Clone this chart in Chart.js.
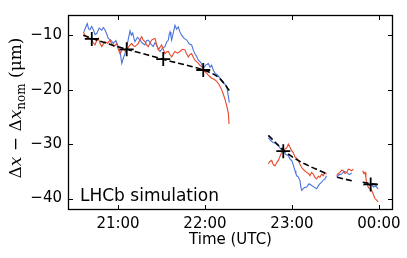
<!DOCTYPE html>
<html>
<head>
<meta charset="utf-8">
<script src="https://cdn.jsdelivr.net/npm/chart.js@4.4.1/dist/chart.umd.min.js"></script>
<style>
  html, body { margin: 0; padding: 0; background: #fff; }
</style>
</head>
<body>
<canvas id="chart" width="407" height="258"></canvas>
<script>
// time axis: minutes after 20:00 UTC
const xTickValues = [60, 120, 180, 240];
const xTickLabels = ['21:00', '22:00', '23:00', '00:00'];
const yTickValues = [-10, -20, -30, -40];

// blue measurement (null = gap)
const blueTime = [36.5, 37.6, 38.8, 39.7, 40.7, 41.8, 43.0, 44.2, 45.3, 47.0, 48.8, 49.9, 51.0, 52.2, 53.3, 55.0,
  56.8, 58.5, 60.2, 61.4, 62.6, 63.7, 64.8, 66.5, 68.3, 69.2, 70.1, 70.9, 71.7, 73.4, 75.2, 76.9, 78.6, 79.7,
  80.9, 82.6, 84.3, 85.5, 86.7, 87.8, 89.0, 90.7, 92.4, 93.5, 94.7, 95.3, 95.9, 96.5, 97.0, 98.2, 99.3, 100.4,
  101.6, 102.7, 103.9, 105.6, 107.4, 109.1, 110.8, 112.0, 113.1, 114.3, 115.4, 117.1, 118.8, 120.5, 122.3, 123.5,
  124.6, 125.7, 126.9, 128.6, 130.3, 131.5, 132.6, 133.8, 135.0, 136.1, 136.8, 150,
  163.7, 165.4, 167.1, 168.8, 170.6, 172.3, 174.0, 175.8, 177.5, 178.7, 179.8, 181.0, 182.1, 182.7, 183.2, 184.4,
  185.5, 186.1, 186.7, 188.4, 190.1, 191.8, 193.6, 195.3, 197.0, 198.8, 200.5, 201.6, 202.8, 203.9, 207,
  210.8, 212.5, 214.3, 216.0, 217.7, 219.5, 221.2, 225,
  229.2, 230.4, 231.5, 232.6, 233.8, 235.0, 236.1, 237.8, 239.5];
const blueVal = [-9.4, -8.6, -7.9, -8.8, -9.0, -8.4, -9.0, -9.9, -9.7, -8.7, -9.1, -8.6, -9.0, -9.8, -10.6, -10.9,
  -11.5, -11.0, -12.1, -13.0, -15.2, -14.2, -13.4, -11.5, -9.2, -10.0, -9.6, -10.5, -11.2, -10.4, -10.9, -11.5, -11.8, -11.0,
  -10.9, -11.6, -12.1, -11.4, -11.8, -12.6, -13.0, -12.4, -12.1, -11.3, -10.9, -9.9, -9.4, -10.2, -10.9, -9.5, -8.2, -8.9,
  -8.5, -9.4, -10.0, -10.6, -10.9, -11.6, -11.8, -12.8, -13.4, -13.9, -14.6, -15.0, -16.1, -15.5, -15.2, -15.9,
  -15.5, -16.4, -17.0, -17.3, -17.9, -18.4, -18.8, -19.0, -19.4, -21.2, -22.4, null,
  -28.8, -29.4, -29.7, -29.9, -30.3, -30.9, -31.2, -31.9, -32.1, -32.8, -33.0, -33.9, -34.9, -35.4, -35.8, -36.0,
  -36.7, -37.8, -38.5, -38.0, -37.9, -37.3, -37.6, -37.9, -38.2, -37.4, -37.0, -36.6, -36.4, -35.8, null,
  -36.1, -35.6, -35.5, -35.0, -35.2, -35.6, -35.3, null,
  -37.6, -37.1, -37.0, -37.5, -37.6, -37.3, -37.9, -37.7, -38.2];

// red measurement (null = gap)
const redTime = [36.1, 37.2, 38.4, 40.1, 41.9, 43.0, 44.1, 45.3, 46.4, 47.6, 48.8, 49.9, 51.0, 52.8, 54.5, 55.6,
  56.8, 57.9, 59.1, 60.2, 61.4, 62.6, 63.7, 64.9, 66.0, 67.7, 69.4, 70.5, 71.7, 72.9, 74.0, 75.2, 76.3, 77.4,
  78.6, 79.7, 80.9, 82.0, 83.2, 84.4, 85.5, 86.7, 87.8, 89.0, 90.1, 91.2, 92.4, 93.5, 94.7, 95.9, 97.0, 98.2,
  99.3, 101.0, 102.7, 104.4, 106.2, 107.3, 108.5, 109.6, 110.8, 112.0, 113.1, 114.3, 115.4, 116.5, 117.7, 119.4,
  121.2, 122.9, 124.6, 126.3, 128.1, 129.8, 131.5, 132.6, 133.8, 135.0, 136.1, 136.6, 150,
  163.7, 164.8, 166.0, 167.2, 168.3, 169.5, 170.6, 171.7, 172.9, 174.0, 175.2, 176.4, 177.5, 178.6, 179.8, 181.0,
  182.1, 183.3, 184.4, 185.5, 186.7, 188.4, 190.1, 191.3, 192.4, 193.5, 194.7, 195.8, 197.0, 198.2, 199.3, 200.5,
  201.6, 202.7, 203.9, 207,
  210.8, 212.0, 213.1, 214.3, 215.4, 216.5, 217.7, 218.9, 220.0, 221.2, 222.3, 225,
  228.8, 229.6, 230.4, 231.0, 231.5, 232.6, 233.8, 235.0, 236.1, 237.2, 238.4, 239.5];
const redVal = [-9.4, -10.0, -10.3, -10.5, -10.9, -11.4, -11.8, -11.0, -10.6, -11.5, -12.1, -11.6, -11.2, -11.5, -10.9, -11.6,
  -12.1, -11.9, -11.5, -12.6, -13.4, -12.8, -12.4, -12.9, -12.7, -12.0, -11.5, -11.9, -12.1, -11.8, -11.5, -10.8, -10.3, -10.9,
  -11.2, -11.8, -12.1, -11.5, -10.9, -10.7, -10.6, -11.8, -12.7, -12.2, -11.8, -12.6, -13.4, -13.1, -13.0, -13.6, -14.0, -13.4,
  -13.0, -13.3, -13.0, -12.6, -12.7, -13.4, -14.0, -13.6, -13.4, -14.1, -14.6, -14.9, -15.2, -15.5, -15.8, -16.5,
  -17.0, -17.5, -17.9, -18.1, -18.5, -19.1, -20.0, -20.8, -21.8, -23.0, -24.3, -26.3, null,
  -33.6, -33.2, -33.0, -33.8, -34.0, -33.4, -33.0, -32.3, -31.5, -31.3, -30.9, -30.7, -30.0, -30.6, -31.2, -31.6,
  -32.4, -32.6, -33.0, -33.7, -34.3, -34.8, -35.2, -35.4, -35.8, -35.2, -35.5, -36.1, -36.4, -35.9, -36.1, -35.5,
  -35.8, -35.2, -35.5, null,
  -35.8, -35.4, -35.2, -34.8, -34.9, -35.4, -35.2, -34.6, -34.7, -34.9, -34.6, null,
  -34.9, -35.4, -35.2, -36.2, -37.0, -37.9, -38.2, -38.5, -39.2, -40.0, -40.3, -40.6];

// fitted trend (black dashed)
const fitTime = [36, 50, 65, 80, 95, 110, 120, 130, 137.2, 150,
  163.7, 169.0, 174.5, 180.0, 185.5, 192.4, 199.3, 204.3, 207,
  211.2, 222.3, 225,
  228.8, 240.2];
const fitVal = [-10.0, -11.3, -12.5, -13.6, -14.7, -15.7, -16.5, -17.9, -20.3, null,
  -28.4, -29.8, -31.2, -32.3, -33.2, -34.1, -34.9, -35.5, null,
  -36.1, -36.8, null,
  -37.0, -37.5];

// reference points (+)
const markTime = [41.9, 66.0, 91.2, 118.8, 174.0, 234.3];
const markVal = [-10.7, -12.6, -14.4, -16.4, -31.3, -37.4];

const pts = (xs, ys) => xs.map((x, i) => ({ x: x, y: ys[i] }));
const minus = v => (v < 0 ? '\u2212' + Math.abs(v) : String(v));

const frame = {
  id: 'frame',
  afterDraw(c) {
    const { ctx, chartArea: a, scales: { x, y } } = c;
    ctx.save();
    ctx.strokeStyle = '#000';
    ctx.lineWidth = 1;
    ctx.beginPath();
    x.ticks.forEach(t => {
      const px = Math.round(x.getPixelForValue(t.value)) + 0.5;
      ctx.moveTo(px, a.bottom); ctx.lineTo(px, a.bottom - 5);
      ctx.moveTo(px, a.top); ctx.lineTo(px, a.top + 5);
    });
    y.ticks.forEach(t => {
      const py = Math.round(y.getPixelForValue(t.value)) + 0.5;
      ctx.moveTo(a.left, py); ctx.lineTo(a.left + 5, py);
      ctx.moveTo(a.right, py); ctx.lineTo(a.right - 5, py);
    });
    ctx.stroke();
    ctx.lineWidth = 1.3;
    ctx.strokeRect(a.left + 0.5, a.top + 0.5, a.width - 1, a.height - 1);

    ctx.fillStyle = '#000';
    // annotation
    ctx.font = '17px "DejaVu Sans"';
    ctx.textAlign = 'left';
    ctx.textBaseline = 'alphabetic';
    ctx.fillText('LHCb simulation', 80, 201);

    // x title
    ctx.font = '15px "DejaVu Sans"';
    ctx.textAlign = 'center';
    ctx.fillText('Time (UTC)', (a.left + a.right) / 2, 244);

    // y title with subscript
    const big = '17px "DejaVu Serif"';
    const bigIt = 'italic 17px "DejaVu Serif"';
    const small = '12px "DejaVu Serif"';
    const parts = [
      { t: '\u0394', f: big, dy: 0 },
      { t: 'x', f: bigIt, dy: 0 },
      { t: ' \u2212 ', f: big, dy: 0 },
      { t: '\u0394', f: big, dy: 0 },
      { t: 'x', f: bigIt, dy: 0 },
      { t: 'nom', f: small, dy: 4 },
      { t: ' (\u03bcm)', f: big, dy: 0 }
    ];
    let w = 0;
    parts.forEach(p => { ctx.font = p.f; p.w = ctx.measureText(p.t).width; w += p.w; });
    ctx.translate(21, 108);
    ctx.rotate(-Math.PI / 2);
    ctx.textAlign = 'left';
    let cx = -w / 2;
    parts.forEach(p => { ctx.font = p.f; ctx.fillText(p.t, cx, p.dy); cx += p.w; });
    ctx.restore();
  }
};

new Chart(document.getElementById('chart'), {
  type: 'line',
  data: {
    datasets: [
      {
        label: 'markers',
        data: pts(markTime, markVal),
        showLine: false,
        pointStyle: 'cross',
        pointRadius: 7,
        pointBorderWidth: 1.8,
        pointBorderColor: '#000',
        borderColor: '#000'
      },
      {
        label: 'fit',
        data: pts(fitTime, fitVal),
        borderColor: '#000',
        borderWidth: 1.6,
        borderDash: [6, 3],
        cubicInterpolationMode: 'monotone',
        pointRadius: 0,
        spanGaps: false
      },
      {
        label: 'red',
        data: pts(redTime, redVal),
        borderColor: '#e8482a',
        borderWidth: 1.1,
        pointRadius: 0,
        spanGaps: false
      },
      {
        label: 'blue',
        data: pts(blueTime, blueVal),
        borderColor: '#4a72dd',
        borderWidth: 1.1,
        pointRadius: 0,
        spanGaps: false
      }
    ]
  },
  options: {
    responsive: false,
    animation: false,
    devicePixelRatio: 1,
    layout: { padding: { left: 0, right: 14, top: 13, bottom: 0 } },
    plugins: { legend: { display: false }, tooltip: { enabled: false } },
    scales: {
      x: {
        type: 'linear',
        min: 25.5,
        max: 249.7,
        grid: { display: false, drawTicks: false },
        border: { display: false },
        afterBuildTicks: s => { s.ticks = xTickValues.map(v => ({ value: v })); },
        afterFit: s => { s.height = 48; },
        ticks: {
          padding: 5,
          color: '#000',
          font: { family: 'DejaVu Sans', size: 15 },
          maxRotation: 0,
          callback: v => xTickLabels[xTickValues.indexOf(v)]
        }
      },
      y: {
        type: 'linear',
        min: -42.1,
        max: -6.3,
        grid: { display: false, drawTicks: false },
        border: { display: false },
        afterBuildTicks: s => { s.ticks = yTickValues.map(v => ({ value: v })); },
        afterFit: s => { s.width = 68; },
        ticks: {
          padding: 6,
          color: '#000',
          font: { family: 'DejaVu Sans', size: 15 },
          callback: v => minus(v)
        }
      }
    }
  },
  plugins: [frame]
});
</script>
</body>
</html>
